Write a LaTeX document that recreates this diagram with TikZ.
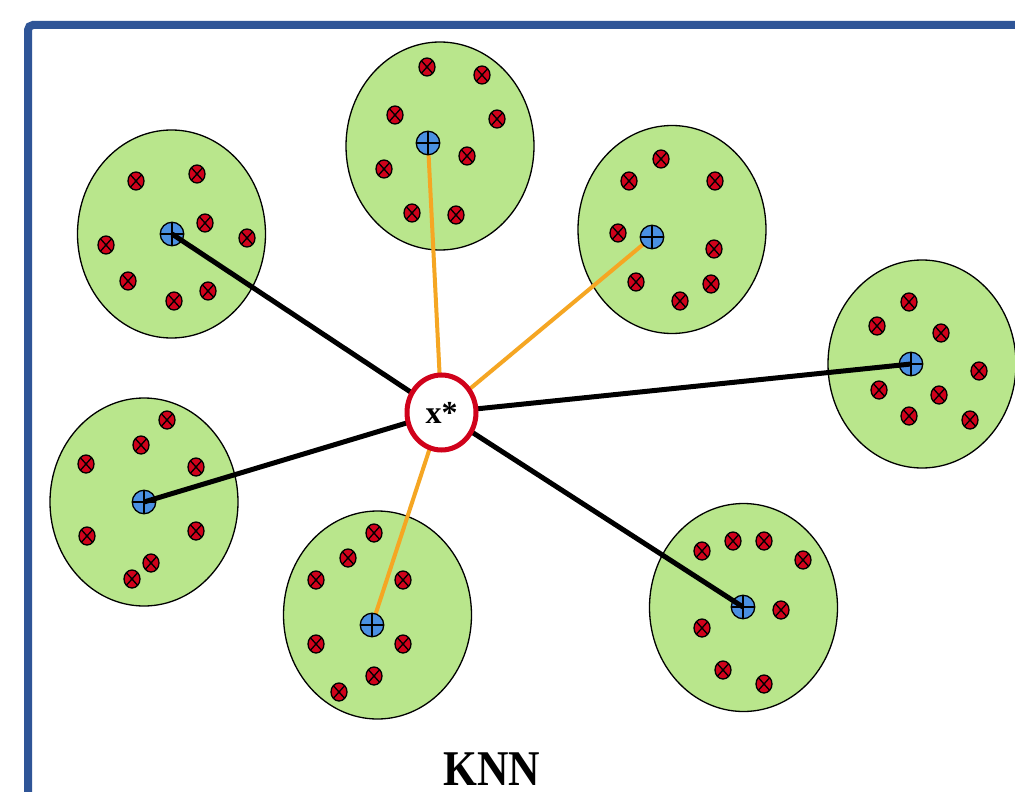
\documentclass[tikz,border=0pt]{standalone}
\usepackage{fontspec}
\setmainfont{Liberation Serif}
\usetikzlibrary{shapes.geometric}
\pgfdeclarelayer{back}
\pgfdeclarelayer{mid}
\pgfdeclarelayer{front}
\pgfsetlayers{back,mid,main,front}
\definecolor{clgreen}{HTML}{B9E68C}
\definecolor{mkred}{HTML}{D0021B}
\definecolor{mkblue}{HTML}{4A90E2}
\definecolor{ringred}{HTML}{D0021B}
\definecolor{linkorange}{HTML}{F5A623}
\definecolor{borderblue}{HTML}{2F5597}
\begin{document}
\begin{tikzpicture}[x=1pt,y=-1pt,
  cluster/.style={ellipse, draw=black, line width=1.3pt, fill=clgreen, minimum width=188pt, minimum height=208pt, inner sep=0pt},
  redmark/.style={ellipse, draw=black, line width=1.3pt, fill=mkred, minimum width=16pt, minimum height=18pt, inner sep=0pt,
    path picture={\draw[line width=1.3pt] (path picture bounding box.north west) -- (path picture bounding box.south east)
      (path picture bounding box.north east) -- (path picture bounding box.south west);}},
  bluemark/.style={circle, draw=black, line width=1.3pt, fill=mkblue, minimum size=23.5pt, inner sep=0pt,
    path picture={\draw[line width=1.4pt] (path picture bounding box.north) -- (path picture bounding box.south)
      (path picture bounding box.west) -- (path picture bounding box.east);}},
  farlink/.style={draw=black, line width=5pt},
  nearlink/.style={draw=linkorange, line width=4pt},
  query/.style={ellipse, draw=ringred, line width=5pt, fill=white, minimum width=69pt, minimum height=75pt, inner sep=0pt,
    font=\fontsize{32}{32}\bfseries\selectfont},
  titletext/.style={font=\fontsize{50}{50}\bfseries\selectfont, anchor=base, inner sep=0pt}
]
\useasboundingbox (0,0) rectangle (1015,792);
\clip (0,0) rectangle (1015,792);

\begin{pgfonlayer}{back}
\fill[white] (0,0) rectangle (1015,792);
\node[cluster] (c1) at (171.5,234) {};
\node[cluster] (c2) at (440,146) {};
\node[cluster] (c3) at (672,229.5) {};
\node[cluster] (c4) at (922,364) {};
\node[cluster] (c5) at (144,502) {};
\node[cluster] (c6) at (377.5,615) {};
\node[cluster] (c7) at (743.5,607.5) {};
\end{pgfonlayer}

\draw[borderblue, line width=8pt, rounded corners=5pt] (28,840) -- (28,25) -- (1060,25);

% cluster 1
\foreach \x/\y [count=\i] in {136/181,197/174,205/223,247/238,106/245,128/281,174/301,208/291}
  \node[redmark] (r1-\i) at (\x,\y) {};
\node[bluemark] (b1) at (172,234) {};
% cluster 2
\foreach \x/\y [count=\i] in {427/67,482/75,395/115,497/119,467/156,384/169,412/213,456/215}
  \node[redmark] (r2-\i) at (\x,\y) {};
\node[bluemark] (b2) at (428,143) {};
% cluster 3
\foreach \x/\y [count=\i] in {661/159,629/181,715/181,618/233,714/249,636/282,711/284,680/301}
  \node[redmark] (r3-\i) at (\x,\y) {};
\node[bluemark] (b3) at (652,237) {};
% cluster 4
\foreach \x/\y [count=\i] in {909/302,877/326,941/333,979/371,879/390,939/395,909/416,970/420}
  \node[redmark] (r4-\i) at (\x,\y) {};
\node[bluemark] (b4) at (911,364) {};
% cluster 5
\foreach \x/\y [count=\i] in {167/420,141/445,86/464,196/467,87/536,196/531,151/563,132/579}
  \node[redmark] (r5-\i) at (\x,\y) {};
\node[bluemark] (b5) at (144,502) {};
% cluster 6
\foreach \x/\y [count=\i] in {374/533,348/558,316/580,403/580,316/644,403/644,374/676,339/692}
  \node[redmark] (r6-\i) at (\x,\y) {};
\node[bluemark] (b6) at (372,625) {};
% cluster 7
\foreach \x/\y [count=\i] in {702/551,733/541,764/541,803/560,781/610,702/628,723/670,764/684}
  \node[redmark] (r7-\i) at (\x,\y) {};
\node[bluemark] (b7) at (743,607) {};

\begin{pgfonlayer}{front}
\node[query] (xs) at (441.5,412.5) {x*};
\end{pgfonlayer}

\begin{pgfonlayer}{mid}
\draw[nearlink] (xs.center) -- (b2.center);
\draw[nearlink] (xs.center) -- (b3.center);
\draw[nearlink] (xs.center) -- (b6.center);
\end{pgfonlayer}

\draw[farlink] (xs.center) -- (b1.center);
\draw[farlink] (xs.center) -- (b4.center);
\draw[farlink] (xs.center) -- (b5.center);
\draw[farlink] (xs.center) -- (b7.center);

\node[titletext] (title) at (492,785) {\scalebox{0.87}[1]{KNN}};
\end{tikzpicture}
\end{document}
